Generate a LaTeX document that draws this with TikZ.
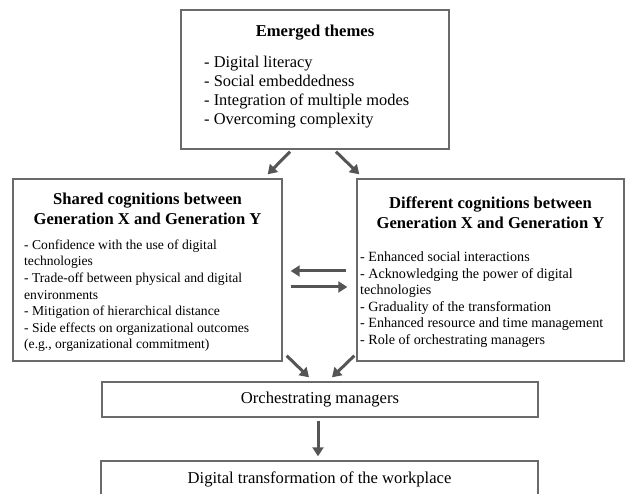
\documentclass[tikz,border=0pt]{standalone}
\usepackage{fontspec}
\setmainfont{Liberation Serif}
\usetikzlibrary{arrows.meta,calc}
\definecolor{boxgray}{HTML}{6A6A6A}
\definecolor{arrgray}{HTML}{555555}
\tikzset{
  box/.style={draw=boxgray, line width=1.4pt, rectangle, inner sep=0pt},
  ttl/.style={font=\fontsize{16.6}{20}\selectfont\bfseries, align=center, inner sep=0pt},
  biglist/.style={font=\fontsize{16.4}{19.3}\selectfont, align=left, inner sep=0pt, anchor=north west},
  smalllist/.style={font=\fontsize{13.6}{16.6}\selectfont, align=left, inner sep=0pt, anchor=north west},
  rsmalllist/.style={font=\fontsize{14.1}{16.6}\selectfont, align=left, inner sep=0pt, anchor=north west},
  plain/.style={font=\fontsize{16.6}{20}\selectfont, inner sep=0pt},
  arr/.style={draw=arrgray, line width=3pt, -{Triangle[length=9pt,width=11pt]}}
}
\begin{document}
\begin{tikzpicture}[x=1pt,y=-1pt]
\useasboundingbox[fill=white] (0,0) rectangle (625,494);
% boxes
\node[box, minimum width=268pt, minimum height=139pt] (top) at (315,79.5) {};
\node[box, minimum width=269pt, minimum height=182pt] (left) at (147.5,270) {};
\node[box, minimum width=267pt, minimum height=182pt] (right) at (490.5,270) {};
\node[box, minimum width=436pt, minimum height=35pt] (orch) at (320,399.5) {};
\node[box, minimum width=437pt, minimum height=40pt] (bottom) at (319.5,481) {};
% texts
\node[ttl] (toptitle) at (315,33) {Emerged themes};
\node[biglist] (toplist) at (204,55.5) {- Digital literacy\\- Social embeddedness\\- Integration of multiple modes\\- Overcoming complexity};
\node[ttl] (lefttitle) at (147.5,209) {Shared cognitions between\\Generation X and Generation Y};
\node[smalllist] (leftlist) at (24,239.5) {- Confidence with the use of digital\\technologies\\- Trade-off between physical and digital\\environments\\- Mitigation of hierarchical distance\\- Side effects on organizational outcomes\\(e.g., organizational commitment)};
\node[ttl] (righttitle) at (490.5,213) {Different cognitions between\\Generation X and Generation Y};
\node[rsmalllist] (rightlist) at (360,251.5) {- Enhanced social interactions\\- Acknowledging the power of digital\\technologies\\- Graduality of the transformation\\- Enhanced resource and time management\\- Role of orchestrating managers};
\node[plain] (orchtext) at (orch.center) {Orchestrating managers};
\node[plain] (bottomtext) at (319.5,479) {Digital transformation of the workplace};
% arrows
\draw[arr] ($(top.south)+(-25,2)$) -- ($(left.north east)+(-15,-4)$);
\draw[arr] ($(top.south)+(21,2)$) -- ($(right.north west)+(3,-4)$);
\draw[arr] ($(right.west)+(-10,1)$) -- ($(left.east)+(8,1)$);
\draw[arr] ($(left.east)+(8,17)$) -- ($(right.west)+(-9,17)$);
\draw[arr] ($(left.south east)+(4,-6)$) -- ($(orch.north)+(-11,-4)$);
\draw[arr] ($(right.south west)+(-2,-6)$) -- ($(orch.north)+(12,-4)$);
\draw[arr] ($(orch.south)+(-2,3)$) -- ($(bottom.north)+(-1.5,-4)$);
\end{tikzpicture}
\end{document}
